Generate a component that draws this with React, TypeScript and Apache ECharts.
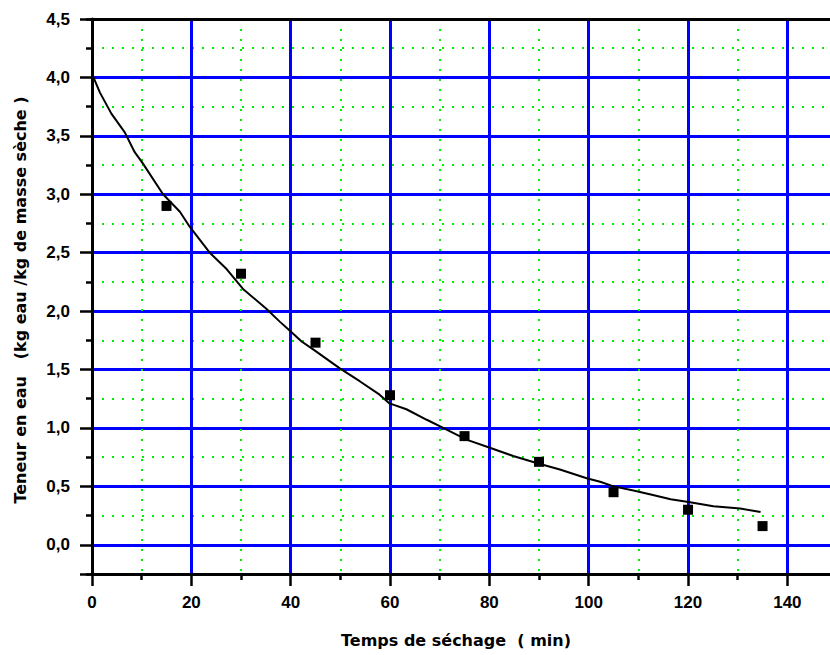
import React, { useEffect, useRef } from 'react';
import * as echarts from 'echarts';

// Measured points (drying time in min, moisture content kg water / kg dry matter)
const sampleTimes = [15, 30, 45, 60, 75, 90, 105, 120, 135];
const measuredMoisture = [2.9, 2.32, 1.73, 1.28, 0.93, 0.71, 0.45, 0.3, 0.16];

// Fitted drying curve
const curveTimes = [
  0, 1.6, 3.9, 6.6, 8.6, 10.3, 14.3, 17.7, 19.7, 23.7, 27.1, 30.4, 35.1, 37.8, 39.9,
  42.2, 44.6, 49.9, 53.9, 57.9, 59.9, 63.3, 67.4, 70.7, 75.4, 80.1, 84.8, 89.5, 94.2,
  99.6, 102.3, 105, 109, 112.5, 116.5, 120.4, 125.1, 130.5, 134.6,
];
const curveMoisture = [
  4.03, 3.87, 3.69, 3.53, 3.36, 3.26, 3.0, 2.85, 2.72, 2.5, 2.36, 2.19, 2.02, 1.91, 1.83,
  1.74, 1.67, 1.51, 1.4, 1.285, 1.21, 1.16, 1.07, 1.0, 0.9, 0.83, 0.76, 0.7, 0.645,
  0.57, 0.54, 0.5, 0.465, 0.43, 0.39, 0.365, 0.33, 0.31, 0.28,
];

const xTitle = 'Temps de séchage  ( min)';
const yTitle = 'Teneur en eau   (kg eau /kg de masse sèche )';

const BLUE = '#0000ff';
const GREEN = '#00f000';
const TICK_FONT = 'Liberation Sans';

export default function App() {
  const ref = useRef<HTMLDivElement>(null);

  useEffect(() => {
    const chart = echarts.init(ref.current!, null, { renderer: 'svg' });
    const pxPerUnitX = 4.967;
    chart.setOption({
      animation: false,
      backgroundColor: '#ffffff',
      grid: { left: 92, top: 19, width: 160 * pxPerUnitX, height: 555, containLabel: false },
      xAxis: [
        {
          type: 'value',
          position: 'bottom',
          min: 0,
          max: 160,
          interval: 20,
          axisLine: { show: true, onZero: false, lineStyle: { color: '#000', width: 3 } },
          axisTick: { show: true, length: 12, lineStyle: { color: '#000', width: 2.5 } },
          minorTick: { show: true, splitNumber: 2, length: 6, lineStyle: { color: '#000', width: 2.5 } },
          axisLabel: {
            fontSize: 17,
            fontWeight: 'bold',
            fontFamily: TICK_FONT,
            color: '#000',
            margin: 20,
            showMaxLabel: false,
            formatter: (v: number) => (v > 150 ? '' : String(v)),
          },
          splitLine: { show: true, showMinLine: false, lineStyle: { color: BLUE, width: 3 } },
          minorSplitLine: { show: true, lineStyle: { color: GREEN, width: 2, type: [2, 8] } },
        },
        {
          type: 'value',
          position: 'top',
          min: 0,
          max: 160,
          interval: 20,
          axisLine: { show: true, onZero: false, lineStyle: { color: '#000', width: 3 } },
          axisTick: { show: false },
          axisLabel: { show: false },
          splitLine: { show: false },
        },
      ],
      yAxis: [
        {
          type: 'value',
          position: 'left',
          min: -0.25,
          max: 4.5,
          splitNumber: 10,
          minInterval: 0.5,
          maxInterval: 0.5,
          axisLine: { show: true, onZero: false, lineStyle: { color: '#000', width: 3 } },
          axisTick: { show: true, length: 12, lineStyle: { color: '#000', width: 2.5 } },
          axisLabel: {
            fontSize: 17,
            fontWeight: 'bold',
            fontFamily: TICK_FONT,
            color: '#000',
            margin: 22,
            formatter: (v: number) => {
              if (Math.abs(v * 2 - Math.round(v * 2)) > 1e-6) return '';
              return v.toFixed(1).replace('.', ',');
            },
          },
          splitLine: {
            show: true,
            showMinLine: false,
            showMaxLine: false,
            lineStyle: { color: BLUE, width: 3 },
          },
        },
        {
          // helper axis, shifted by a quarter unit, for the dotted minor grid
          type: 'value',
          position: 'left',
          offset: 0,
          min: 0,
          max: 4.75,
          interval: 0.5,
          axisLine: { show: false },
          axisTick: { show: true, length: 6, lineStyle: { color: '#000', width: 2.5 } },
          axisLabel: { show: false },
          splitLine: {
            show: true,
            showMinLine: false,
            showMaxLine: false,
            lineStyle: { color: GREEN, width: 2, type: [2, 8] },
          },
        },
      ],
      graphic: [
        {
          type: 'text',
          x: 456,
          y: 640,
          style: {
            text: xTitle,
            font: 'bold 16px "DejaVu Sans"',
            fill: '#000',
            align: 'center',
            verticalAlign: 'middle',
          },
        },
        {
          type: 'text',
          x: 20,
          y: 300,
          rotation: Math.PI / 2,
          style: {
            text: yTitle,
            font: 'bold 16px "DejaVu Sans"',
            fill: '#000',
            align: 'center',
            verticalAlign: 'middle',
          },
        },
      ],
      series: [
        {
          type: 'line',
          xAxisIndex: 0,
          yAxisIndex: 0,
          data: curveTimes.map((t, i) => [t, curveMoisture[i]]),
          showSymbol: false,
          symbol: 'none',
          lineStyle: { color: '#000', width: 2 },
          z: 3,
        },
        {
          type: 'scatter',
          xAxisIndex: 0,
          yAxisIndex: 0,
          data: sampleTimes.map((t, i) => [t, measuredMoisture[i]]),
          symbol: 'rect',
          symbolSize: 10,
          itemStyle: { color: '#000', opacity: 1 },
          z: 4,
        },
      ],
    });
    return () => chart.dispose();
  }, []);

  return (
    <div
      style={{
        position: 'fixed',
        left: 0,
        top: 0,
        width: 830,
        height: 655,
        overflow: 'hidden',
        background: '#fff',
      }}
    >
      <div ref={ref} style={{ width: 900, height: 655 }} />
    </div>
  );
}
